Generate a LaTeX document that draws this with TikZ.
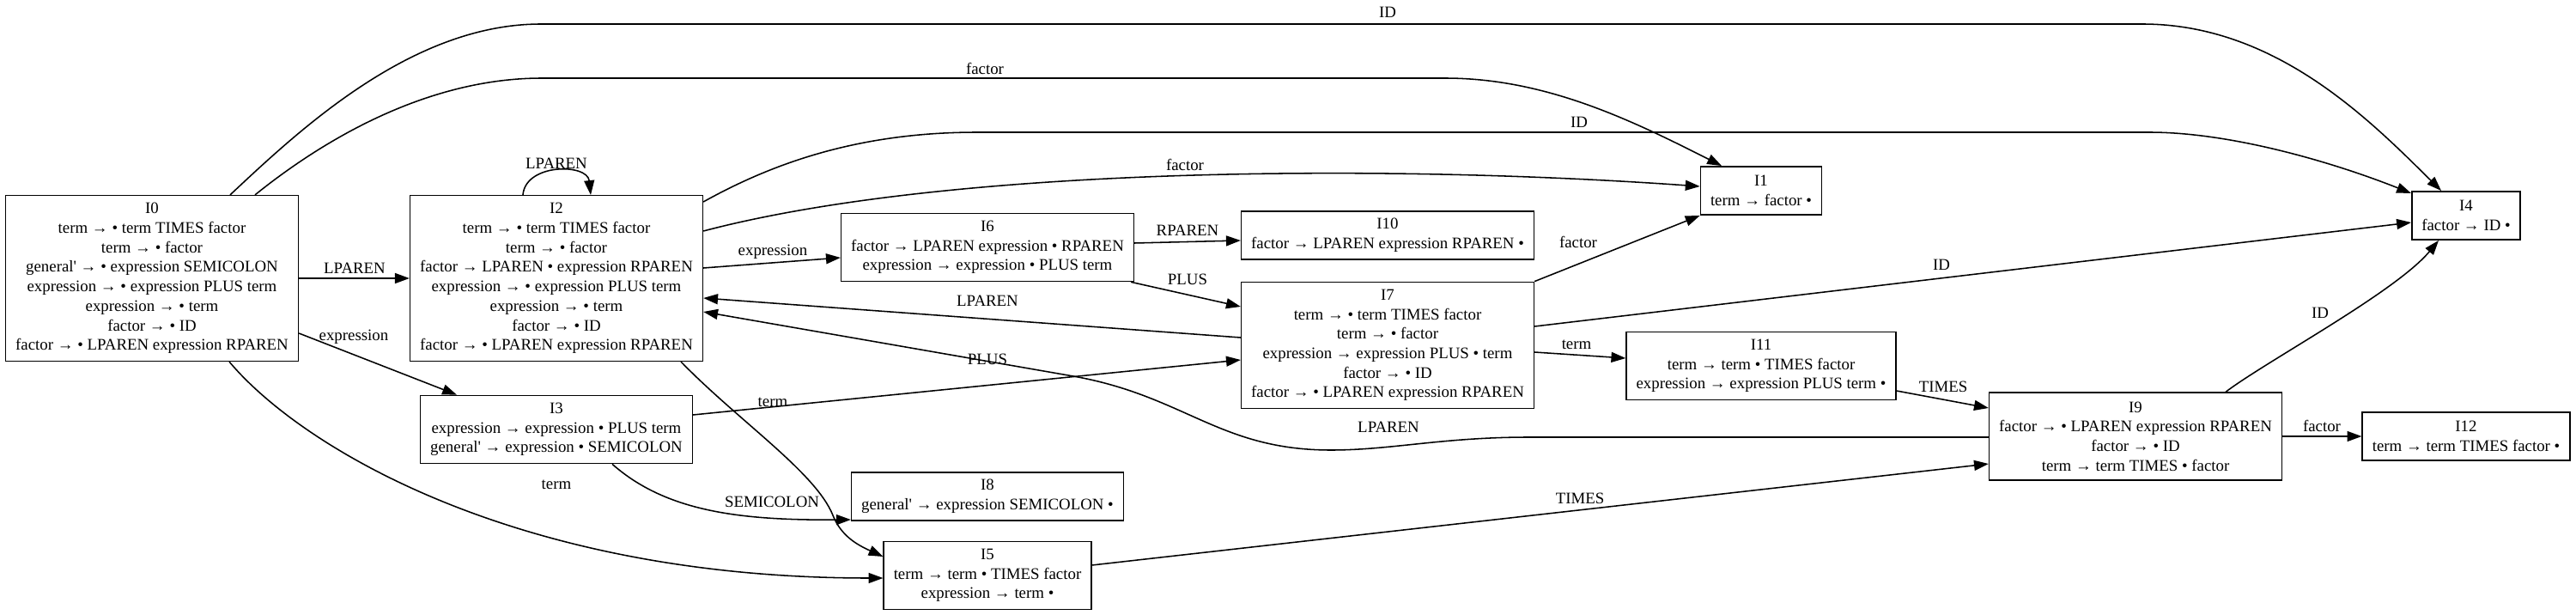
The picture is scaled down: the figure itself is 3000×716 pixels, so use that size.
\documentclass[tikz,border=0pt]{standalone}
\usepackage{fontspec}
\setmainfont{Liberation Serif}[Ligatures=TeXOff]
\usetikzlibrary{arrows.meta}
\begin{document}
\begin{tikzpicture}[x=0.025cm,y=-0.025cm,
		font=\fontsize{13.4}{16.15}\selectfont,
		lrset/.style={draw,line width=1.1pt,align=center,inner xsep=8.2pt,inner ysep=1pt,minimum height={16.15pt*#1+7.8pt}},
		lbl/.style={inner sep=0pt,text height=9pt,text depth=2.5pt},
		trans/.style={line width=1.1pt,-{Triangle[length=12pt,width=8.5pt]}}]
		\useasboundingbox (0,0) rectangle (3000,716);
		\node[lrset=8] (I0) at (177,324) {I0\\term → • term TIMES factor\\term → • factor\\general' → • expression SEMICOLON\\expression → • expression PLUS term\\expression → • term\\factor → • ID\\factor → • LPAREN expression RPAREN};
		\node[lrset=8] (I2) at (648,324) {I2\\term → • term TIMES factor\\term → • factor\\factor → LPAREN • expression RPAREN\\expression → • expression PLUS term\\expression → • term\\factor → • ID\\factor → • LPAREN expression RPAREN};
		\node[lrset=3] (I3) at (648,500) {I3\\expression → expression • PLUS term\\general' → expression • SEMICOLON};
		\node[lrset=3] (I5) at (1150,670) {I5\\term → term • TIMES factor\\expression → term •};
		\node[lrset=2] (I8) at (1150,578) {I8\\general' → expression SEMICOLON •};
		\node[lrset=3] (I6) at (1150,288) {I6\\factor → LPAREN expression • RPAREN\\expression → expression • PLUS term};
		\node[lrset=2] (I10) at (1616,274) {I10\\factor → LPAREN expression RPAREN •};
		\node[lrset=6] (I7) at (1616,402) {I7\\term → • term TIMES factor\\term → • factor\\expression → expression PLUS • term\\factor → • ID\\factor → • LPAREN expression RPAREN};
		\node[lrset=2] (I1) at (2051,222) {I1\\term → factor •};
		\node[lrset=3] (I11) at (2051,426) {I11\\term → term • TIMES factor\\expression → expression PLUS term •};
		\node[lrset=4] (I9) at (2487,508) {I9\\factor → • LPAREN expression RPAREN\\factor → • ID\\term → term TIMES • factor};
		\node[lrset=2] (I4) at (2872,251) {I4\\factor → ID •};
		\node[lrset=2] (I12) at (2872,508) {I12\\term → term TIMES factor •};
		\draw[trans] (I0.north -| 268,0) .. controls (350,150) and (480,28) .. (630,28) -- (2495,28) .. controls (2650,28) and (2760,140) .. (I4.north -| 2843,0);
		\draw[trans] (I0.north -| 297,0) .. controls (380,160) and (500,91) .. (631,91) -- (1683,91) .. controls (1800,91) and (1900,140) .. (I1.north -| 2005,0);
		\draw[trans] (I0) -- (I2);
		\draw[trans] (I0.east |- 0,388) -- (I3.north -| 532,0);
		\draw[trans] (I0.south -| 267,0) .. controls (350,520) and (600,673) .. (I5.west |- 0,673);
		\draw[trans] (I2.north -| 609,0) .. controls (612,190) and (684,190) .. (I2.north -| 688,0);
		\draw[trans] (I2.east |- 0,235) .. controls (900,190) and (1000,154) .. (1138,154) -- (2503,154) .. controls (2600,154) and (2720,190) .. (I4.west |- 0,225);
		\draw[trans] (I2.east |- 0,269) .. controls (1100,195) and (1600,190) .. (I1.west |- 0,217);
		\draw[trans] (I2.east |- 0,312) -- (I6.west |- 0,300);
		\draw[trans] (I2.south -| 793,0) .. controls (860,490) and (950,550) .. (970,600) .. controls (980,625) and (1000,635) .. (I5.west |- 0,648);
		\draw[trans] (I3.east |- 0,483) -- (I7.west |- 0,419);
		\draw[trans] (I3.south -| 713,0) .. controls (775,595) and (860,606) .. (I8.west |- 0,605);
		\draw[trans] (I5.east |- 0,658) -- (I9.west |- 0,540);
		\draw[trans] (I6.east |- 0,283) -- (I10.west |- 0,280);
		\draw[trans] (I6.south -| 1317,0) -- (I7.west |- 0,357);
		\draw[trans] (I7.west |- 0,393) -- (I2.east |- 0,347);
		\draw[trans] (I7.north east) -- (I1.south west);
		\draw[trans] (I7.east |- 0,380) -- (I4.west |- 0,259);
		\draw[trans] (I7.east |- 0,410) -- (I11.west |- 0,417);
		\draw[trans] (I9.west |- 0,509) -- (1780,509) .. controls (1680,509) and (1620,524) .. (1550,524) .. controls (1420,524) and (1380,461) .. (1250,438) -- (I2.east |- 0,363);
		\draw[trans] (I11.east |- 0,455) -- (I9.west |- 0,475);
		\draw[trans] (I9.north -| 2592,0) .. controls (2640,420) and (2790,340) .. (I4.south -| 2840,0);
		\draw[trans] (I9) -- (I12);
		\node[lbl] (l0-4) at (1616,16) {ID};
		\node[lbl] (l0-1) at (1147,82) {factor};
		\node[lbl] (l2-4) at (1839,144) {ID};
		\node[lbl] (l2-1) at (1380,194) {factor};
		\node[lbl] (l2-2) at (648,192) {LPAREN};
		\node[lbl] (l0-2) at (413,314) {LPAREN};
		\node[lbl] (l0-3) at (412,392) {expression};
		\node[lbl] (l2-6) at (900,293) {expression};
		\node[lbl] (l6-10) at (1383,270) {RPAREN};
		\node[lbl] (l6-7) at (1383,327) {PLUS};
		\node[lbl] (l7-2) at (1150,352) {LPAREN};
		\node[lbl] (l3-7) at (1150,420) {PLUS};
		\node[lbl] (l2-5) at (900,469) {term};
		\node[lbl] (l0-5) at (648,565) {term};
		\node[lbl] (l3-8) at (899,586) {SEMICOLON};
		\node[lbl] (l5-9) at (1840,582) {TIMES};
		\node[lbl] (l7-1) at (1838,284) {factor};
		\node[lbl] (l7-4) at (2261,310) {ID};
		\node[lbl] (l7-11) at (1836,402) {term};
		\node[lbl] (l11-9) at (2263,452) {TIMES};
		\node[lbl] (l9-2) at (1617,499) {LPAREN};
		\node[lbl] (l9-4) at (2702,366) {ID};
		\node[lbl] (l9-12) at (2704,498) {factor};
\end{tikzpicture}
\end{document}
